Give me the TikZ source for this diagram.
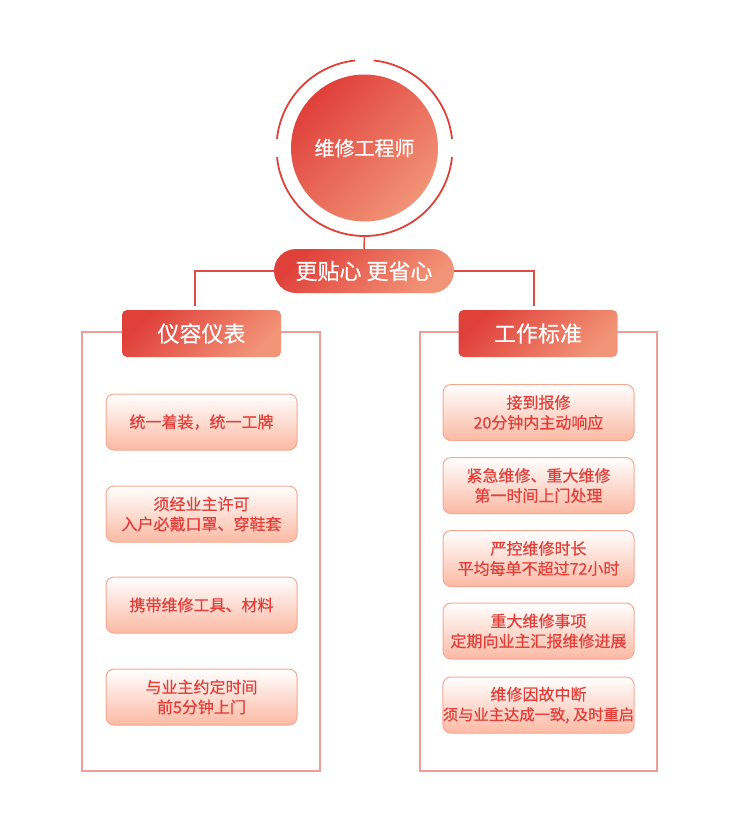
\documentclass[tikz,border=0pt]{standalone}
\usepackage{fontspec}
\usepackage{xcolor}
\usepackage{tikz}
\setmainfont{Noto Sans CJK SC}[FakeBold=0.5]

\definecolor{deepred}{HTML}{E0403A}
\definecolor{softred}{HTML}{F29477}
\definecolor{boxtext}{HTML}{E33F3A}
\definecolor{boxfill}{HTML}{FBB9A3}
\definecolor{boxline}{HTML}{F6A893}
\definecolor{frameline}{HTML}{F19C96}
\definecolor{linkred}{HTML}{E24A42}

\begin{document}
\begin{tikzpicture}[x=1pt,y=-1pt,
  redfill/.style={top color=deepred, bottom color=softred, shading angle=45},
  head/.style={redfill, text=white, rounded corners=5pt, minimum width=159pt,
    minimum height=47pt, inner sep=0pt, font=\fontsize{22}{26}\selectfont},
  item/.style={draw=boxline, line width=1pt, top color=white, bottom color=boxfill,
    rounded corners=8pt, minimum width=191pt, minimum height=56pt, inner sep=0pt,
    align=center, text=boxtext, font=\fontsize{16}{20}\selectfont},
  link/.style={draw=linkred, line width=1.5pt}]
\useasboundingbox (0,0) rectangle (740,831);

    \node[circle, redfill, minimum size=147pt, inner sep=0pt, text=white,
      font=\fontsize{20}{24}\selectfont] (eng) at (364.5,148) {维修工程师};
    \coordinate (ringbot) at (364.5,236);

    % broken ring round the title
    \draw[deepred, line width=1.8pt] ([shift={(6:88pt)}]eng.center) arc[start angle=6, end angle=84, radius=88pt];
    \draw[deepred, line width=1.8pt] ([shift={(96:88pt)}]eng.center) arc[start angle=96, end angle=174, radius=88pt];
    \draw[deepred, line width=1.8pt] ([shift={(186:88pt)}]eng.center) arc[start angle=186, end angle=354, radius=88pt];

    \node[redfill, text=white, rounded corners=22pt, minimum width=180pt, minimum height=44pt,
      inner sep=0pt, font=\fontsize{22}{26}\selectfont] (slogan) at (364,271) {更贴心\hspace{5pt}更省心};

    % column frames
    \draw[frameline, line width=1.5pt] (82,332) rectangle (320,771);
    \draw[frameline, line width=1.5pt] (420,332) rectangle (657,771);

    \node[head] (hdrL) at (201.5,333.5) {仪容仪表};
    \node[head] (hdrR) at (538,333.5) {工作标准};

    \node[item] (l1) at (201.5,422) {统一着装，统一工牌};
    \node[item] (l2) at (201.5,514) {须经业主许可\\入户必戴口罩、穿鞋套};
    \node[item] (l3) at (201.5,605) {携带维修工具、材料};
    \node[item] (l4) at (201.5,697) {与业主约定时间\\前5分钟上门};

    \node[item] (r1) at (538.5,412.5) {接到报修\\20分钟内主动响应};
    \node[item] (r2) at (538.5,485.5) {紧急维修、重大维修\\第一时间上门处理};
    \node[item] (r3) at (538.5,558.5) {严控维修时长\\平均每单不超过72小时};
    \node[item] (r4) at (538.5,631) {重大维修事项\\定期向业主汇报维修进展};
    \node[item] (r5) at (538.5,705) {维修因故中断\\\fontsize{15.3}{20}\selectfont 须与业主达成一致, 及时重启};

    % draw the links
    \draw[link] (ringbot) -- (slogan.north);
    \draw[link] (slogan.west) -| ([xshift=-6.5pt,yshift=4pt]hdrL.north);
    \draw[link] (slogan.east) -| ([xshift=-4pt,yshift=4pt]hdrR.north);

\end{tikzpicture}
\end{document}
